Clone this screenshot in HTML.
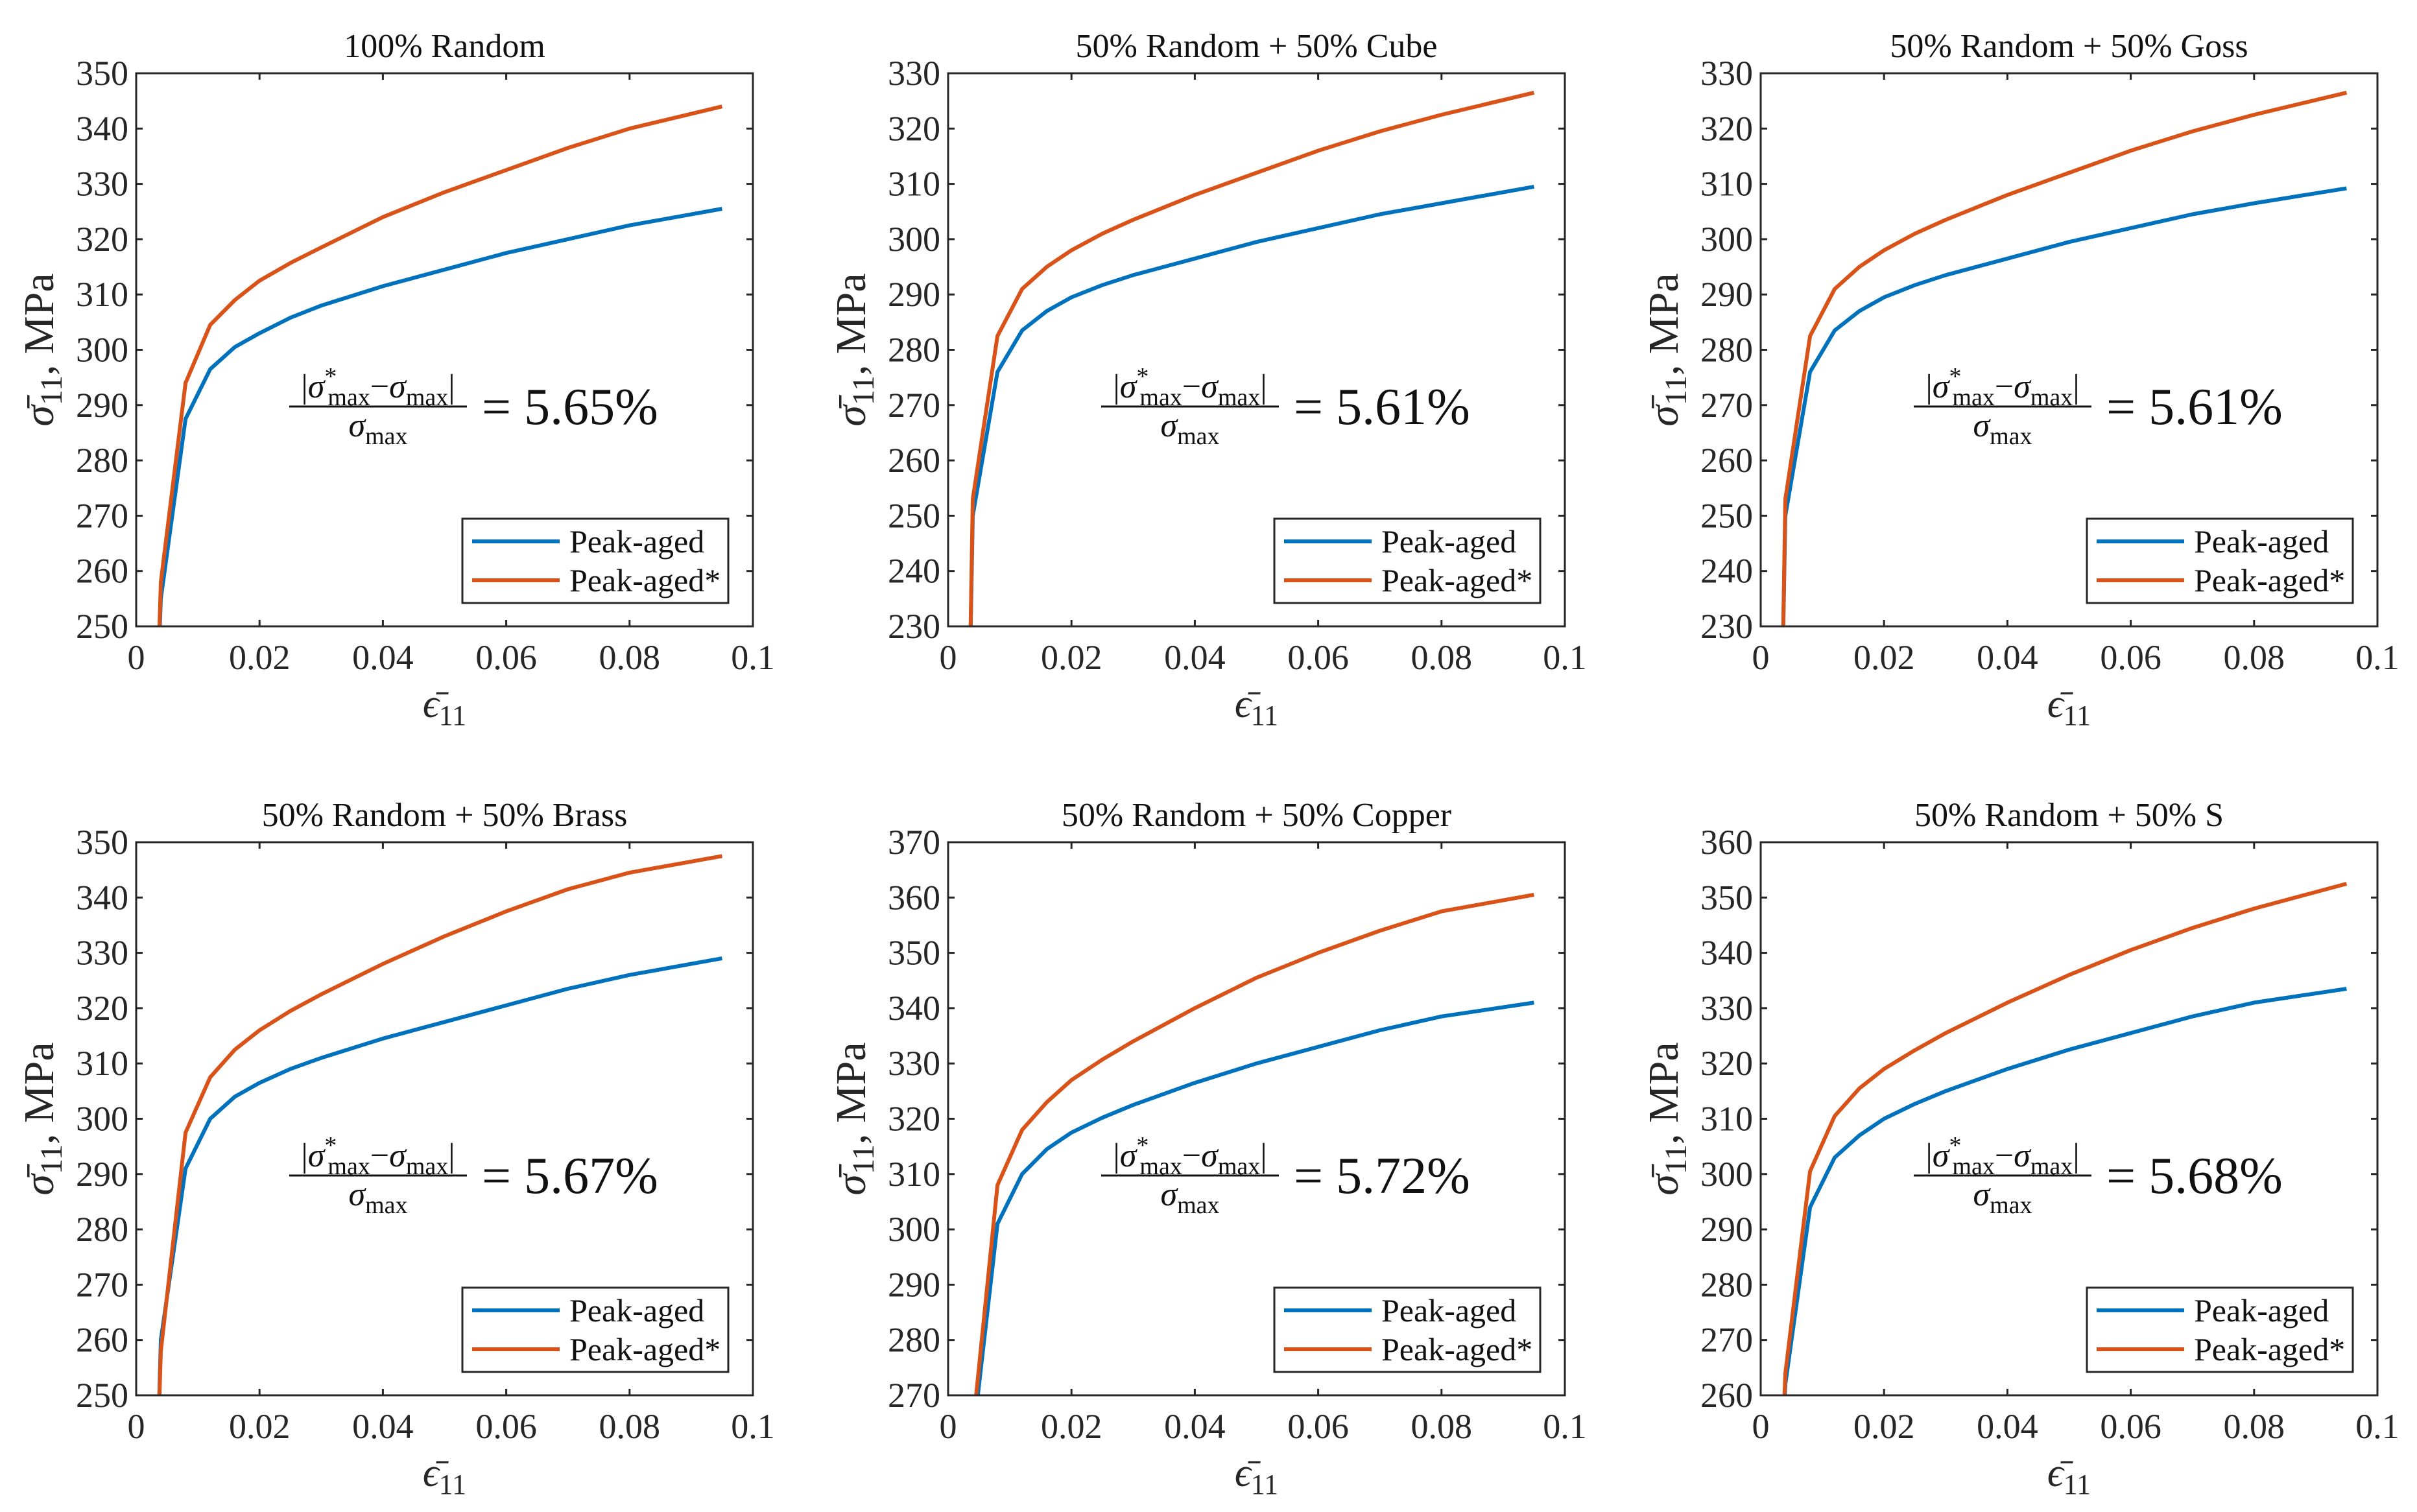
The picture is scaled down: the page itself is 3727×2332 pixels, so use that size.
<!DOCTYPE html>
<html><head><meta charset="utf-8"><style>
html,body{margin:0;padding:0;background:#fff;}
svg, svg text, svg tspan{font-family:"Liberation Serif","Times New Roman","DejaVu Serif",serif;}
</style></head><body>
<svg id="fig" width="3727" height="2327" viewBox="0 0 3727 2327" xmlns="http://www.w3.org/2000/svg" font-family="'Liberation Serif', 'DejaVu Serif', serif"></svg>
<script>
const titles = ["100% Random","50% Random + 50% Cube","50% Random + 50% Goss","50% Random + 50% Brass","50% Random + 50% Copper","50% Random + 50% S"];
const yMins = [250,230,230,250,270,260];
const yMaxs = [350,330,330,350,370,360];
const errors = ["5.65%","5.61%","5.61%","5.67%","5.72%","5.68%"];
const strain = [0.0035,0.004,0.008,0.012,0.016,0.02,0.025,0.03,0.04,0.05,0.06,0.07,0.08,0.095];
const peakAged = [
 [240,255,287.5,296.5,300.5,303,305.8,308,311.5,314.5,317.5,320,322.5,325.5],
 [220,250,276,283.5,287,289.5,291.7,293.5,296.5,299.5,302,304.5,306.5,309.5],
 [220,250,276,283.5,287,289.5,291.7,293.5,296.5,299.5,302,304.5,306.5,309.2],
 [240,260,291,300,304,306.5,309,311,314.5,317.5,320.5,323.5,326,329],
 [250,262,301,310,314.5,317.5,320.2,322.5,326.5,330,333,336,338.5,341],
 [250,262,294,303,307,310,312.7,315,319,322.5,325.5,328.5,331,333.5]
];
const peakAgedStar = [
 [240,258,294,304.5,309,312.5,315.7,318.5,324,328.5,332.5,336.5,340,344],
 [220,253,282.5,291,295,298,301,303.5,308,312,316,319.5,322.5,326.5],
 [220,253,282.5,291,295,298,301,303.5,308,312,316,319.5,322.5,326.5],
 [240,258,297.5,307.5,312.5,316,319.5,322.5,328,333,337.5,341.5,344.5,347.5],
 [250,264,308,318,323,327,330.7,334,340,345.5,350,354,357.5,360.5],
 [250,264,300.5,310.5,315.5,319,322.4,325.5,331,336,340.5,344.5,348,352.5]
];
const xTicks = [0,0.02,0.04,0.06,0.08,0.1];
const xTickLabels = ["0","0.02","0.04","0.06","0.08","0.1"];

const NS="http://www.w3.org/2000/svg";
const FF="'Liberation Serif', 'DejaVu Serif', serif";
const svg=document.getElementById('fig');
function mk(tag,attrs,parent){const e=document.createElementNS(NS,tag);for(const k in attrs)e.setAttribute(k,attrs[k]);if(tag==='text')e.setAttribute('font-family',FF);(parent||svg).appendChild(e);return e;}
const colL=[210,1462,2715], rowT=[113,1299], W=951, H=853;
for(let p=0;p<6;p++){
  const L=colL[p%3], T=rowT[Math.floor(p/3)];
  const g=mk('g',{});
  
  
  const xs=v=>L+v/0.1*W;
  const ys=v=>T+H-(v-yMins[p])/(yMaxs[p]-yMins[p])*H;
  const cid='clip'+p;
  const cp=mk('clipPath',{id:cid},g);mk('rect',{x:L,y:T,width:W,height:H},cp);
  for(let i=0;i<xTicks.length;i++){
    const x=xs(xTicks[i]);
    const tk=mk('line',{x1:x,y1:T+H,x2:x,y2:T+H-10,stroke:'#262626','stroke-width':3},g);
    
    
    mk('line',{x1:x,y1:T,x2:x,y2:T+10,stroke:'#262626','stroke-width':3},g);
    const t=mk('text',{x:x,y:T+H+66,'text-anchor':'middle','font-size':54,fill:'#262626'},g);
    t.textContent=xTickLabels[i];
    
    
  }
  for(let v=yMins[p];v<=yMaxs[p];v+=10){
    const y=ys(v);
    mk('line',{x1:L,y1:y,x2:L+10,y2:y,stroke:'#262626','stroke-width':3},g);
    mk('line',{x1:L+W,y1:y,x2:L+W-10,y2:y,stroke:'#262626','stroke-width':3},g);
    const t=mk('text',{x:L-12,y:y+18,'text-anchor':'end','font-size':54,fill:'#262626'},g);
    t.textContent=String(v);
    
    
  }
  const series=[[peakAged[p],'#0072BD','peak-aged-line'],[peakAgedStar[p],'#D95319','peak-aged-star-line']];
  for(const s of series){
    const d=strain.map((x,i)=>(i?'L':'M')+xs(x).toFixed(1)+','+ys(s[0][i]).toFixed(1)).join(' ');
    const pa=mk('path',{d:d,fill:'none',stroke:s[1],'stroke-width':6,'stroke-linejoin':'round','clip-path':'url(#'+cid+')'},g);
    
    
  }
  const bx=mk('rect',{x:L,y:T,width:W,height:H,fill:'none',stroke:'#262626','stroke-width':3},g);
  
  
  const tt=mk('text',{x:L+W/2,y:T-25,'text-anchor':'middle','font-size':52,fill:'#111'},g);
  tt.textContent=titles[p];
  
  
  const xl=mk('text',{x:L+W/2,y:T+H+140,'text-anchor':'middle','font-size':62,fill:'#262626'},g);
  xl.innerHTML='<tspan font-style="italic">ϵ̄</tspan><tspan font-size="44" dy="12">11</tspan>';
  
  
  const yl=mk('text',{x:0,y:0,'text-anchor':'middle','font-size':66,fill:'#262626',transform:'translate('+(L-128)+','+(T+H/2)+') rotate(-90)'},g);
  yl.innerHTML='<tspan font-style="italic">σ̄</tspan><tspan font-size="48" dy="13">11</tspan><tspan dy="-13">,  MPa</tspan>';
  
  
  const fx=L+373;
  const fg=mk('g',{},g);
  
  
  const num=mk('text',{x:fx,y:T+500,'text-anchor':'middle','font-size':52,fill:'#111'},fg);
  num.innerHTML='|<tspan font-style="italic">σ</tspan><tspan font-size="38" dy="-20">*</tspan><tspan font-size="38" dx="-14" dy="32">max</tspan><tspan dy="-12">−</tspan><tspan font-style="italic">σ</tspan><tspan font-size="38" dy="12">max</tspan><tspan dy="-12">|</tspan>';
  mk('line',{x1:fx-137,y1:T+514,x2:fx+137,y2:T+514,stroke:'#111','stroke-width':3},fg);
  const den=mk('text',{x:fx,y:T+560,'text-anchor':'middle','font-size':52,fill:'#111'},fg);
  den.innerHTML='<tspan font-style="italic">σ</tspan><tspan font-size="38" dy="12">max</tspan>';
  const eq=mk('text',{x:fx+160,y:T+541,'font-size':80,fill:'#111'},fg);
  eq.textContent='= '+errors[p];
  const lg=mk('g',{},g);
  
  
  mk('rect',{x:L+503,y:T+687,width:410,height:130,fill:'#fff',stroke:'#262626','stroke-width':3},lg);
  const names=['Peak-aged','Peak-aged*'], cols=['#0072BD','#D95319'];
  for(let i=0;i<2;i++){
    const y=T+722+i*60;
    const li=mk('line',{x1:L+518,y1:y,x2:L+653,y2:y,stroke:cols[i],'stroke-width':6},lg);
    
    
    const lt=mk('text',{x:L+668,y:y+17,'font-size':50,fill:'#111'},lg);
    lt.textContent=names[i];
    
    
  }
}
</script>
</body></html>
